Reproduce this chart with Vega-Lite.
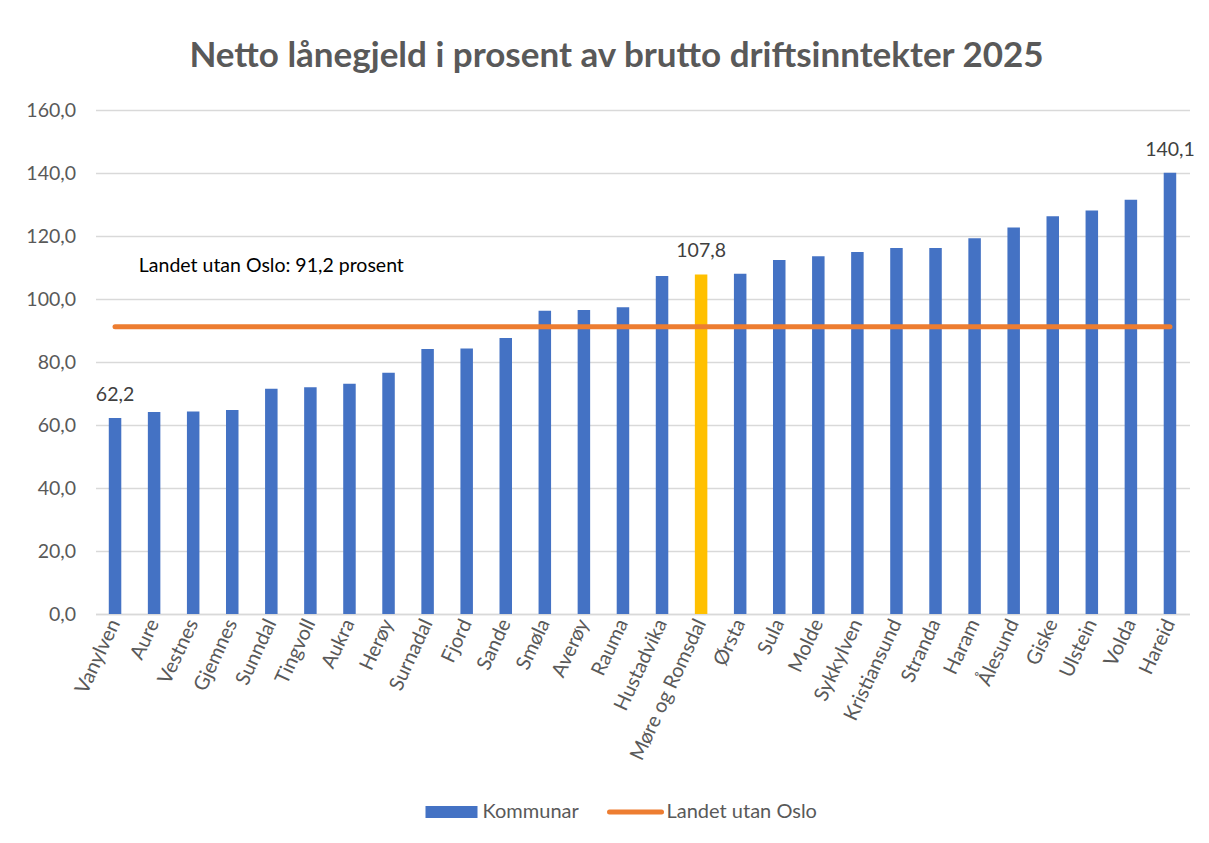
{
  "$schema": "https://vega.github.io/schema/vega-lite/v6.json",
  "width": 1094,
  "height": 504,
  "autosize": "none",
  "padding": {"left": 95.5, "top": 110, "right": 19.5, "bottom": 229},
  "background": "white",
  "title": {
    "text": "Netto lånegjeld i prosent av brutto driftsinntekter 2025",
    "fontSize": 35,
    "font": "Lato",
    "fontWeight": "bold",
    "color": "#595959",
    "anchor": "middle",
    "offset": 26,
    "dx": -26
  },
  "config": {
    "font": "Lato",
    "locale": {"number": {"decimal": ",", "thousands": " ", "grouping": [3], "currency": ["", " kr"]}},
    "view": {"stroke": null}
  },
  "datasets": {
    "kommunar": [
      {"kommune": "Vanylven", "verdi": 62.2, "landet": 91.2, "serie": "Kommunar", "linje": "Landet utan Oslo"},
      {"kommune": "Aure", "verdi": 64.1, "landet": 91.2, "serie": "Kommunar", "linje": "Landet utan Oslo"},
      {"kommune": "Vestnes", "verdi": 64.3, "landet": 91.2, "serie": "Kommunar", "linje": "Landet utan Oslo"},
      {"kommune": "Gjemnes", "verdi": 64.8, "landet": 91.2, "serie": "Kommunar", "linje": "Landet utan Oslo"},
      {"kommune": "Sunndal", "verdi": 71.5, "landet": 91.2, "serie": "Kommunar", "linje": "Landet utan Oslo"},
      {"kommune": "Tingvoll", "verdi": 72.0, "landet": 91.2, "serie": "Kommunar", "linje": "Landet utan Oslo"},
      {"kommune": "Aukra", "verdi": 73.1, "landet": 91.2, "serie": "Kommunar", "linje": "Landet utan Oslo"},
      {"kommune": "Herøy", "verdi": 76.6, "landet": 91.2, "serie": "Kommunar", "linje": "Landet utan Oslo"},
      {"kommune": "Surnadal", "verdi": 84.1, "landet": 91.2, "serie": "Kommunar", "linje": "Landet utan Oslo"},
      {"kommune": "Fjord", "verdi": 84.3, "landet": 91.2, "serie": "Kommunar", "linje": "Landet utan Oslo"},
      {"kommune": "Sande", "verdi": 87.6, "landet": 91.2, "serie": "Kommunar", "linje": "Landet utan Oslo"},
      {"kommune": "Smøla", "verdi": 96.3, "landet": 91.2, "serie": "Kommunar", "linje": "Landet utan Oslo"},
      {"kommune": "Averøy", "verdi": 96.5, "landet": 91.2, "serie": "Kommunar", "linje": "Landet utan Oslo"},
      {"kommune": "Rauma", "verdi": 97.4, "landet": 91.2, "serie": "Kommunar", "linje": "Landet utan Oslo"},
      {"kommune": "Hustadvika", "verdi": 107.3, "landet": 91.2, "serie": "Kommunar", "linje": "Landet utan Oslo"},
      {"kommune": "Møre og Romsdal", "verdi": 107.8, "landet": 91.2, "serie": "Kommunar", "linje": "Landet utan Oslo"},
      {"kommune": "Ørsta", "verdi": 108.0, "landet": 91.2, "serie": "Kommunar", "linje": "Landet utan Oslo"},
      {"kommune": "Sula", "verdi": 112.4, "landet": 91.2, "serie": "Kommunar", "linje": "Landet utan Oslo"},
      {"kommune": "Molde", "verdi": 113.6, "landet": 91.2, "serie": "Kommunar", "linje": "Landet utan Oslo"},
      {"kommune": "Sykkylven", "verdi": 114.9, "landet": 91.2, "serie": "Kommunar", "linje": "Landet utan Oslo"},
      {"kommune": "Kristiansund", "verdi": 116.2, "landet": 91.2, "serie": "Kommunar", "linje": "Landet utan Oslo"},
      {"kommune": "Stranda", "verdi": 116.2, "landet": 91.2, "serie": "Kommunar", "linje": "Landet utan Oslo"},
      {"kommune": "Haram", "verdi": 119.3, "landet": 91.2, "serie": "Kommunar", "linje": "Landet utan Oslo"},
      {"kommune": "Ålesund", "verdi": 122.7, "landet": 91.2, "serie": "Kommunar", "linje": "Landet utan Oslo"},
      {"kommune": "Giske", "verdi": 126.3, "landet": 91.2, "serie": "Kommunar", "linje": "Landet utan Oslo"},
      {"kommune": "Ulstein", "verdi": 128.1, "landet": 91.2, "serie": "Kommunar", "linje": "Landet utan Oslo"},
      {"kommune": "Volda", "verdi": 131.5, "landet": 91.2, "serie": "Kommunar", "linje": "Landet utan Oslo"},
      {"kommune": "Hareid", "verdi": 140.1, "landet": 91.2, "serie": "Kommunar", "linje": "Landet utan Oslo"}
    ],
    "merknad": [
      {"kommune": "Sunndal", "y": 108.7, "tekst": "Landet utan Oslo: 91,2 prosent"}
    ]
  },
  "encoding": {
    "x": {
      "field": "kommune",
      "type": "nominal",
      "sort": null,
      "scale": {"paddingInner": 0.68, "paddingOuter": 0.34},
      "axis": {
        "title": null,
        "labelAngle": -65,
        "labelFontSize": 20,
        "labelColor": "#595959",
        "ticks": false,
        "domainColor": "#D9D9D9",
        "domainWidth": 1.3,
        "labelPadding": 6
      }
    }
  },
  "layer": [
    {
      "data": {"name": "kommunar"},
      "mark": {"type": "bar"},
      "encoding": {
        "y": {
          "field": "verdi",
          "type": "quantitative",
          "scale": {"domain": [0, 160], "nice": false},
          "axis": {
            "title": null,
            "values": [0, 20, 40, 60, 80, 100, 120, 140, 160],
            "format": ".1f",
            "gridColor": "#D9D9D9",
            "gridWidth": 1.3,
            "domain": false,
            "ticks": false,
            "labelPadding": 20,
            "labelFontSize": 19.5,
            "labelColor": "#595959"
          }
        },
        "color": {
          "condition": {"test": "datum.kommune === 'Møre og Romsdal'", "value": "#FFC000"},
          "field": "serie",
          "type": "nominal",
          "scale": {"domain": ["Kommunar", "Landet utan Oslo"], "range": ["#4472C4", "#ED7D31"]},
          "legend": {
            "title": null,
            "orient": "none",
            "direction": "horizontal",
            "legendX": 346,
            "legendY": 692,
            "labelFontSize": 20,
            "labelColor": "#595959",
            "labelFont": "Lato",
            "symbolSize": 2704,
            "labelOffset": 21,
            "columnPadding": 20,
            "encode": {
              "symbols": {
                "update": {
                  "shape": {"signal": "datum.value === 'Kommunar' ? 'M-1,-0.23H1V0.23H-1Z' : 'M-1,0H1'"},
                  "fill": {"signal": "datum.value === 'Kommunar' ? '#4472C4' : 'transparent'"},
                  "stroke": {"signal": "datum.value === 'Kommunar' ? '#4472C4' : '#ED7D31'"},
                  "strokeWidth": {"signal": "datum.value === 'Kommunar' ? 0 : 5"},
                  "strokeCap": {"value": "round"},
                  "opacity": {"value": 1},
                  "fillOpacity": {"value": 1}
                }
              }
            }
          }
        }
      }
    },
    {
      "data": {"name": "kommunar"},
      "mark": {"type": "line", "strokeWidth": 5, "strokeCap": "round"},
      "encoding": {
        "y": {"field": "landet", "type": "quantitative"},
        "color": {"field": "linje", "type": "nominal"}
      }
    },
    {
      "data": {"name": "kommunar"},
      "transform": [{"filter": {"field": "kommune", "oneOf": ["Vanylven", "Møre og Romsdal", "Hareid"]}}],
      "mark": {"type": "text", "baseline": "alphabetic", "dy": -17, "fontSize": 19.5, "color": "#404040"},
      "encoding": {
        "y": {"field": "verdi", "type": "quantitative"},
        "text": {"field": "verdi", "type": "quantitative", "format": ".1f"}
      }
    },
    {
      "data": {"name": "merknad"},
      "mark": {"type": "text", "baseline": "alphabetic", "fontSize": 19.5, "color": "#000000"},
      "encoding": {
        "y": {"field": "y", "type": "quantitative"},
        "text": {"field": "tekst", "type": "nominal"}
      }
    }
  ]
}
